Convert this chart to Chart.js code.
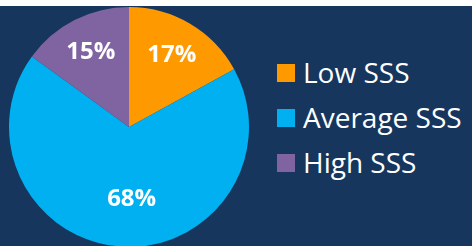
<!DOCTYPE html>
<html>
<head>
<meta charset="utf-8">
<script src="https://cdn.jsdelivr.net/npm/chart.js@4"></script>
<style>
  html, body { margin:0; padding:0; width:472px; height:246px; overflow:hidden; background:#fff; }
  #panel { position:absolute; left:0; top:6px; width:472px; height:240px; background:#17365d; overflow:hidden; }
  #pieWrap { position:absolute; left:9px; top:1px; width:240px; height:240px; }
  #legend { position:absolute; left:277px; top:44px; font-family:"Open Sans", sans-serif; font-size:28px; color:#fff; }
  .row { display:flex; align-items:center; height:45px; line-height:45px; white-space:nowrap; }
  .box { width:18px; height:18px; margin-right:8px; flex:none; }
</style>
</head>
<body>
<div id="panel">
  <div id="pieWrap"><canvas id="pie" width="240" height="240"></canvas></div>
  <div id="legend"></div>
</div>
<script>
const labels = ['Low SSS', 'Average SSS', 'High SSS'];
const values = [17, 68, 15];
const colors = ['#ff9900', '#00b0f0', '#8064a2'];

// where each percentage sits: share of the radius, and a small turn off the slice middle
const labelRadius = [0.7, 0.6, 0.7];
const labelTurn = [0, -0.1, 0];

const pctLabels = {
  id: 'pctLabels',
  afterDatasetsDraw(chart){
    const ctx = chart.ctx;
    const meta = chart.getDatasetMeta(0);
    const total = values.reduce((a, b) => a + b, 0);
    ctx.save();
    ctx.fillStyle = '#fff';
    ctx.font = 'bold 24px "Open Sans", sans-serif';
    ctx.textAlign = 'center';
    ctx.textBaseline = 'middle';
    meta.data.forEach((arc, i) => {
      const mid = (arc.startAngle + arc.endAngle) / 2 + labelTurn[i];
      const r = arc.outerRadius * labelRadius[i];
      const x = arc.x + Math.cos(mid) * r;
      const y = arc.y + Math.sin(mid) * r;
      ctx.fillText(Math.round(values[i] / total * 100) + '%', x, y);
    });
    ctx.restore();
  }
};

new Chart(document.getElementById('pie'), {
  type: 'pie',
  data: {
    labels: labels,
    datasets: [{ data: values, backgroundColor: colors, borderWidth: 0 }]
  },
  options: {
    responsive: false,
    animation: false,
    layout: { padding: 0 },
    plugins: { legend: { display: false }, tooltip: { enabled: false } }
  },
  plugins: [pctLabels]
});

const legend = document.getElementById('legend');
labels.forEach((l, i) => {
  const row = document.createElement('div');
  row.className = 'row';
  row.innerHTML = `<span class="box" style="background:${colors[i]}"></span><span>${l}</span>`;
  legend.appendChild(row);
});
</script>
</body>
</html>
